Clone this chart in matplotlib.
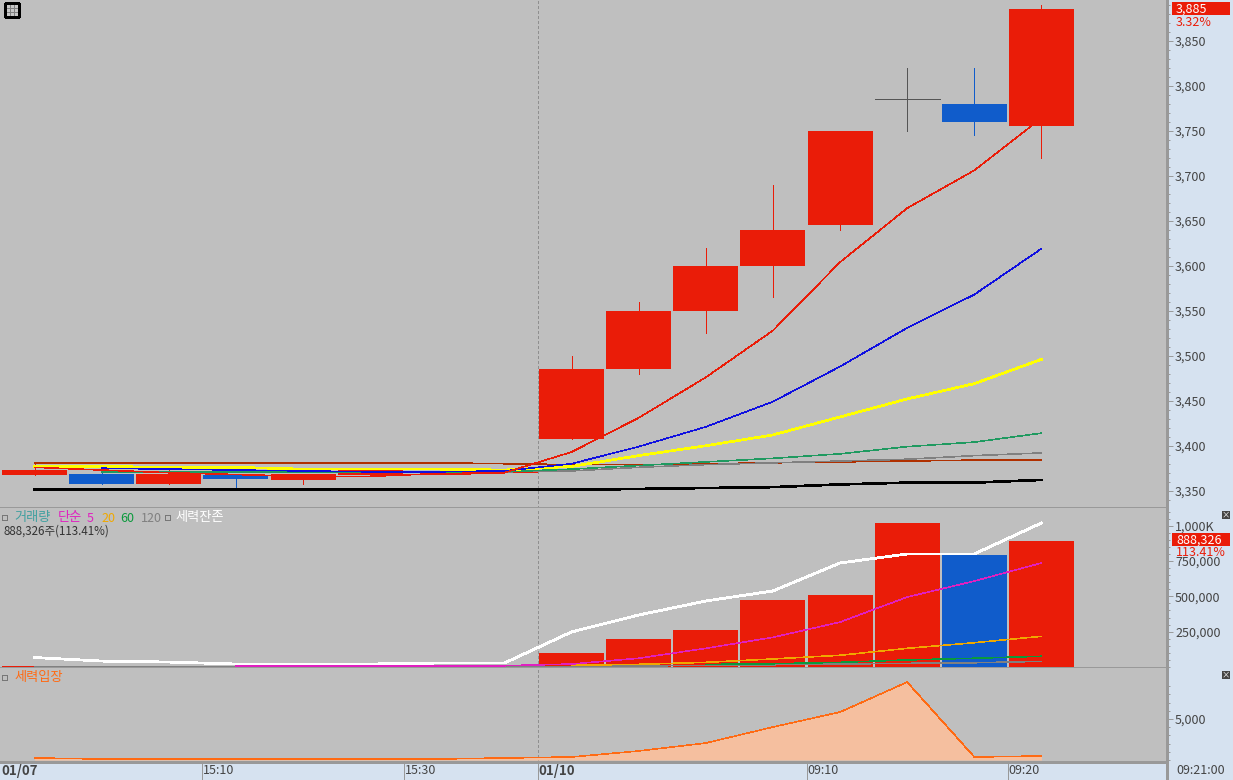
import numpy as np
import matplotlib
matplotlib.use("Agg")
import matplotlib.pyplot as plt
from matplotlib.patches import Rectangle

plt.rcParams['font.family'] = ['Noto Sans CJK KR', 'DejaVu Sans']
plt.rcParams['lines.antialiased'] = False
plt.rcParams['patch.antialiased'] = False

nan = float('nan')

# candles, 01/07 afternoon then 01/10 morning
opens = [3368, 3369, 3358, 3368, 3362, 3368, 3369, 3371, 3408, 3485, 3550, 3600, 3645, 3785, 3780, 3755]
closes = [3373, 3358, 3369, 3363, 3369, 3373, 3369, 3371, 3485, 3550, 3600, 3640, 3750, 3785, 3760, 3885]
highs = [3380, 3373, 3373, 3368, 3369, 3373, 3369, 3371, 3500, 3560, 3620, 3690, 3750, 3820, 3820, 3890]
lows = [3368, 3358, 3358, 3351, 3358, 3368, 3369, 3371, 3408, 3480, 3525, 3565, 3640, 3750, 3745, 3720]
candle_up = [1, 0, 1, 0, 1, 1, 1, 1, 1, 1, 1, 1, 1, 2, 0, 1]

ma5 = [3376, 3373, 3370, 3368, 3366, 3366, 3369, 3370, 3393, 3431, 3476, 3528, 3604, 3664, 3706, 3764]
ma10 = [nan, 3375, 3374, 3373, 3372, 3371, 3371, 3372, 3380, 3399, 3421, 3449, 3488, 3531, 3568, 3619]
ma20 = [3377, 3377, 3376, 3376, 3374, 3374, 3374, 3373, 3377, 3389, 3400, 3412, 3432, 3452, 3469, 3496]
ma60 = [nan, 3371, 3371, 3371, 3371, 3371, 3371, 3371, 3374, 3378, 3382, 3386, 3391, 3399, 3404, 3414]
ma120 = [nan, 3371, 3371, 3371, 3371, 3371, 3371, 3371, 3372, 3376, 3379, 3381, 3383, 3385, 3389, 3392]
ma240 = [3381, 3381, 3381, 3381, 3381, 3381, 3381, 3380, 3379, 3379, 3380, 3381, 3382, 3383, 3384, 3384]
ma480 = [3351, 3351, 3351, 3351, 3351, 3351, 3351, 3351, 3351, 3352, 3353, 3354, 3357, 3359, 3359, 3362]

volume = [9000, 9000, 3000, 9000, 3000, 3000, 9000, 3000, 99000, 198000, 262000, 474000, 509000, 1019000, 792000, 888326]
volume_up = [1, 1, 1, 0, 1, 1, 1, 1, 1, 1, 1, 1, 1, 1, 0, 1]
vol_ma5 = [nan, nan, nan, 9000, 9000, 9000, 9000, 9000, 21000, 62000, 132000, 210000, 318000, 495000, 608000, 736000]
vol_ma20 = [nan, nan, nan, nan, nan, nan, nan, nan, 12000, 19000, 33000, 57000, 83000, 132000, 172000, 217000]
vol_ma60 = [nan, nan, nan, nan, nan, nan, nan, nan, nan, nan, 18000, 23000, 33000, 50000, 62000, 76000]
vol_ma120 = [5000, 5000, 5000, 5000, 5000, 5000, 5000, 5000, 5000, 7000, 12000, 16000, 21000, 26000, 30000, 40000]
remain = [67000, 42000, 35000, 21000, 21000, 21000, 28000, 28000, 248000, 368000, 467000, 538000, 736000, 800000, 800000, 1019000]

entry = [244, 122, 122, 122, 122, 122, 122, 244, 366, 1100, 2070, 4020, 5850, 9500, 366, 488]

x_tick_pos = [-0.5, 2.5, 5.5, 7.5, 11.5, 14.5]
x_tick_labels = ['01/07', '15:10', '15:30', '01/10', '09:10', '09:20']
x_tick_bold = [True, False, False, True, False, False]

RED = '#ea1c08'
BLUE = '#105ccb'
GRAY = '#999999'
PANEL = '#bfbfbf'
SIDE = '#d6e2f0'
TEXT = '#444444'
THIN = 0.42

W, H = 1233, 780
X_RIGHT = 1167


def px(x, y):
    return x / W, 1 - y / H


def make_axes(top, bottom):
    ax = fig.add_axes([0, 1 - bottom / H, X_RIGHT / W, (bottom - top) / H])
    ax.set_facecolor(PANEL)
    ax.set_xlim(-0.514, 16.87)
    ax.yaxis.tick_right()
    ax.tick_params(axis='y', which='major', length=4.3, width=0.7, color=GRAY,
                   labelcolor=TEXT, labelsize=9, pad=1.5)
    ax.tick_params(axis='y', which='minor', length=2, width=0.7, color=GRAY)
    ax.tick_params(axis='x', which='both', bottom=False, labelbottom=False)
    for s in ax.spines.values():
        s.set_color(GRAY)
        s.set_linewidth(0.8)
    ax.spines['left'].set_visible(False)
    ax.spines['top'].set_visible(False)
    ax.spines['right'].set_visible(False)
    ax.axvline(7.5, color='#8f8f8f', lw=THIN, ls=(0, (5, 5)), zorder=1)
    return ax


def tag(y0, y1, value, sub, sub_y):
    fig.add_artist(Rectangle(px(1172, y1), 58 / W, (y1 - y0) / H, fc=RED, lw=0, zorder=5))
    x, y = px(1176, (y0 + y1) / 2 + 1)
    fig.text(x, y, value, color='white', fontsize=9, va='center', ha='left', zorder=6)
    x, y = px(1176, sub_y + 2)
    fig.text(x, y, sub, color=RED, fontsize=9, va='center', ha='left', zorder=6)


def label(x, y, s, color, size=9, **kw):
    fx, fy = px(x, y + 1)
    fig.text(fx, fy, s, color=color, fontsize=size, va='center', ha='left', zorder=6, **kw)


def small_box(x, y):
    fig.add_artist(Rectangle(px(x, y + 5), 5 / W, 5 / H, fill=False, ec='#777777', lw=0.7, zorder=6))


def close_box(x, y):
    fig.add_artist(Rectangle(px(x, y + 8), 8 / W, 8 / H, fc='#444444', lw=0, zorder=6))
    fx, fy = px(x + 4, y + 4)
    fig.text(fx, fy, '×', color='white', fontsize=6, ha='center', va='center', zorder=7)


fig = plt.figure(figsize=(W / 100, H / 100), dpi=100, facecolor=SIDE)
idx = np.arange(len(opens))

# price panel
ax1 = make_axes(0, 508)
ax1.set_ylim(3330.8, 3895.3)
ax1.set_yticks(np.arange(3350, 3851, 50))
ax1.set_yticks(np.arange(3340, 3895, 10), minor=True)
ax1.set_yticklabels([f'{v:,}' for v in np.arange(3350, 3851, 50)])

colors = [{1: RED, 0: BLUE, 2: '#555555'}[c] for c in candle_up]
ax1.vlines(idx, lows, highs, colors=colors, lw=THIN, zorder=2)
bottoms = [min(o, c) for o, c in zip(opens, closes)]
heights = [abs(c - o) for o, c in zip(opens, closes)]
ax1.bar(idx, heights, bottom=bottoms, width=0.968, color=colors, lw=0, zorder=2)
flat = [i for i in idx if opens[i] == closes[i]]
ax1.hlines([opens[i] for i in flat], [i - 0.484 for i in flat], [i + 0.484 for i in flat],
           colors=[colors[i] for i in flat], lw=THIN, zorder=2)

ax1.plot(idx, ma240, color='#b03000', lw=THIN, zorder=3)
ax1.plot(idx, ma120, color='#808080', lw=THIN, zorder=3)
ax1.plot(idx, ma60, color='#1f9a60', lw=THIN, zorder=3)
ax1.plot(idx, ma20, color='#ffff00', lw=1.2, zorder=3)
ax1.plot(idx, ma10, color='#1010e0', lw=THIN, zorder=3)
ax1.plot(idx, ma5, color=RED, lw=THIN, zorder=3)
ax1.plot(idx, ma480, color='black', lw=1.2, zorder=3)

# volume panel
ax2 = make_axes(508, 668)
ax2.set_ylim(-7076, 1125084)
ax2.set_yticks([250000, 500000, 750000, 1000000])
ax2.set_yticklabels(['250,000', '500,000', '750,000', '1,000K'])
ax2.set_yticks(np.arange(0, 1100001, 50000), minor=True)
ax2.bar(idx, volume, width=0.968, color=[RED if u else BLUE for u in volume_up], lw=0, zorder=2)
ax2.plot(idx, vol_ma120, color='#808080', lw=THIN, zorder=3)
ax2.plot(idx, vol_ma60, color='#0a9a3c', lw=THIN, zorder=3)
ax2.plot(idx, vol_ma20, color='#f0a800', lw=THIN, zorder=3)
ax2.plot(idx, vol_ma5, color='#e020c0', lw=THIN, zorder=3)
ax2.plot(idx, remain, color='white', lw=1.3, zorder=4)

# entry panel
ax3 = make_axes(668, 762)
ax3.set_ylim(-244, 11220)
ax3.set_yticks([5000])
ax3.set_yticklabels(['5,000'])
ax3.set_yticks(np.arange(0, 10000, 1000), minor=True)
ax3.fill_between(idx, entry, 0, color='#f5bf9f', lw=0, zorder=2)
ax3.plot(idx, entry, color='#ff6a13', lw=THIN, zorder=3)

for ax in (ax1, ax2, ax3):
    for t in ax.get_yticklabels():
        t.set_verticalalignment('center_baseline')

# time axis along the bottom
for pos, lab, bold in zip(x_tick_pos, x_tick_labels, x_tick_bold):
    if pos > 0:
        ax3.plot([pos, pos], [0, -0.19], transform=ax3.get_xaxis_transform(), color=GRAY,
                 lw=0.7, clip_on=False, zorder=5)
    ax3.annotate(lab, (pos, 0), xycoords=ax3.get_xaxis_transform(), xytext=(0.6, -6.4),
                 textcoords='offset points', ha='left', va='center', fontsize=9.5 if bold else 9,
                 color=TEXT, fontweight='bold' if bold else 'normal', annotation_clip=False)
label(1176, 770, '09:21:00', TEXT)
fig.add_artist(plt.Line2D([X_RIGHT / W, X_RIGHT / W], [0, 1], color=GRAY, lw=0.8))

# price and volume tags
tag(2, 15, '3,885', '3.32%', 20)
tag(533, 546, '888,326', '113.41%', 551)

# legends
small_box(2, 515)
label(14, 517, '거래량', '#40a0a0', size=9.5)
label(58, 517, '단순', '#e020c0', size=9.5)
label(87, 517, '5', '#e020c0')
label(101, 517, '20', '#f0a800')
label(120, 517, '60', '#0a9a3c')
label(141, 517, '120', '#808080')
small_box(165, 515)
label(175, 517, '세력잔존', 'white', size=9.5)
label(4, 530, '888,326주(113.41%)', '#333333', size=8.3)
small_box(2, 675)
label(14, 677, '세력입장', '#ff6a13', size=9.5)

close_box(1222, 511)
close_box(1222, 671)

# table icon, top left
fig.add_artist(Rectangle(px(5, 17), 14 / W, 14 / H, fc='#c8c8c8', ec='black', lw=0.9, zorder=6))
for gx in (10, 14):
    fig.add_artist(plt.Line2D([gx / W, gx / W], [1 - 15 / H, 1 - 5 / H], color='#808080', lw=0.6, zorder=7))
for gy in (8, 12):
    fig.add_artist(plt.Line2D([7 / W, 17 / W], [1 - gy / H, 1 - gy / H], color='#808080', lw=0.6, zorder=7))

fig.savefig('out.png', dpi=100, facecolor=SIDE)
